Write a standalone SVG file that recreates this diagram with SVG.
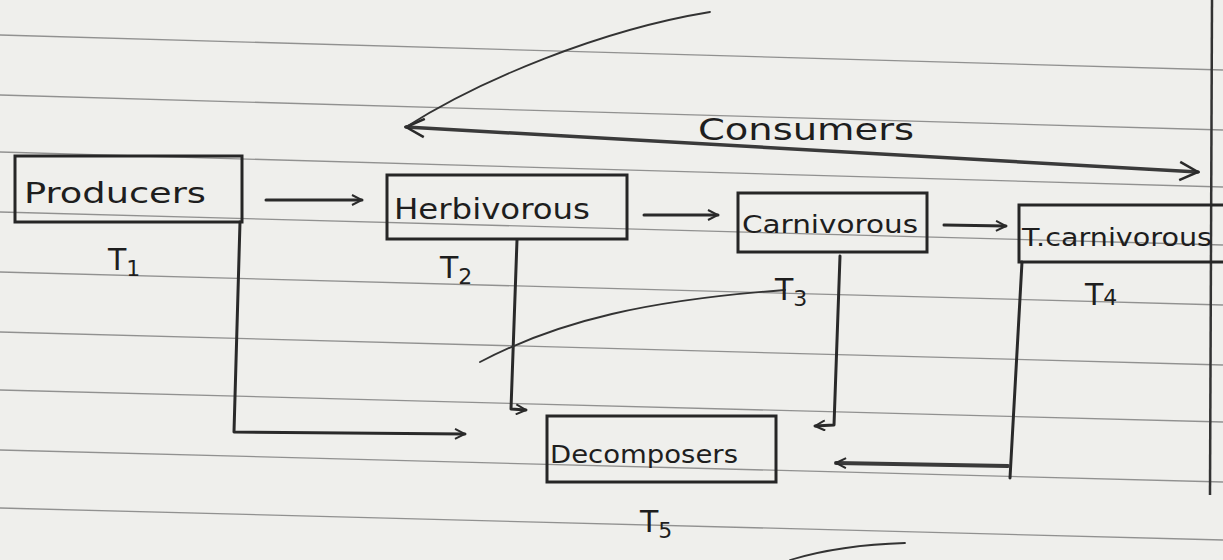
<svg xmlns="http://www.w3.org/2000/svg" width="1223" height="560" viewBox="0 0 1223 560">
<style>
.paper{stroke:#6a6a6a;stroke-width:1.3;fill:none;opacity:0.7}
.box{fill:none;stroke:#262626;stroke-width:3}
.edge{fill:none;stroke:#2a2a2a;stroke-width:3;stroke-linecap:round;stroke-linejoin:round}
.thin{fill:none;stroke:#333;stroke-width:1.8;stroke-linecap:round}
.lbl{font-family:"DejaVu Sans",sans-serif;fill:#1e1e1e;font-size:28px}
.t{font-family:"DejaVu Sans",sans-serif;fill:#1e1e1e;font-size:30px}
.sub{font-family:"DejaVu Sans",sans-serif;fill:#1e1e1e;font-size:22px}
</style>
<defs>
<marker id="ah" viewBox="0 0 12 12" refX="11" refY="6" markerWidth="12" markerHeight="12" markerUnits="userSpaceOnUse" orient="auto-start-reverse">
<path d="M1,1 L11,6 L1,11" fill="none" stroke="#2a2a2a" stroke-width="2"/>
</marker>
<marker id="ahb" viewBox="0 0 12 12" refX="11" refY="6" markerWidth="22" markerHeight="22" markerUnits="userSpaceOnUse" orient="auto-start-reverse">
<path d="M1,1 L11,6 L1,11" fill="none" stroke="#2a2a2a" stroke-width="1.4"/>
</marker>
</defs>
<rect width="1223" height="560" fill="#efefec"/>
<g id="paper">
<line class="paper" x1="0" y1="35" x2="1223" y2="70"/>
<line class="paper" x1="0" y1="95" x2="1223" y2="130"/>
<line class="paper" x1="0" y1="152" x2="1223" y2="187"/>
<line class="paper" x1="0" y1="212" x2="1223" y2="245"/>
<line class="paper" x1="0" y1="272" x2="1223" y2="305"/>
<line class="paper" x1="0" y1="332" x2="1223" y2="365"/>
<line class="paper" x1="0" y1="390" x2="1223" y2="422"/>
<line class="paper" x1="0" y1="450" x2="1223" y2="482"/>
<line class="paper" x1="0" y1="508" x2="1223" y2="540"/>
<line class="paper" x1="1212" y1="0" x2="1210" y2="495" style="stroke:#333;stroke-width:2.5;opacity:1"/>
</g>
<g id="connectors">
<line class="edge" x1="266" y1="200" x2="362" y2="200" marker-end="url(#ah)"/>
<line class="edge" x1="644" y1="215" x2="718" y2="215" marker-end="url(#ah)"/>
<line class="edge" x1="944" y1="225" x2="1006" y2="226" marker-end="url(#ah)"/>
<polyline class="edge" points="240,222 234,432 465,434" marker-end="url(#ah)"/>
<polyline class="edge" points="517,240 511,409 526,410" marker-end="url(#ah)"/>
<polyline class="edge" points="840,256 834,425 815,426" marker-end="url(#ah)"/>
<line class="edge" x1="1022" y1="262" x2="1010" y2="478"/>
<line class="edge" x1="1008" y1="466" x2="836" y2="463" marker-end="url(#ah)" style="stroke-width:4;stroke:#3a3a3a"/>
<line class="edge" x1="406" y1="127" x2="1198" y2="172" marker-start="url(#ahb)" marker-end="url(#ahb)" style="stroke-width:3.5;stroke:#3a3a3a"/>
<path class="thin" d="M710,12 C600,30 480,80 406,127"/>
<path class="thin" d="M785,290 C650,300 560,320 480,362"/>
<path class="thin" d="M790,560 C830,548 870,544 905,543"/>
</g>
<g id="producers">
<rect class="box" x="15" y="156" width="227" height="66"/>
<text class="lbl" x="24" y="203" textLength="182" lengthAdjust="spacingAndGlyphs">Producers</text>
<text class="t" x="108" y="270">T<tspan class="sub" dy="6">1</tspan></text>
</g>
<g id="herbivorous">
<rect class="box" x="387" y="175" width="240" height="64"/>
<text class="lbl" x="394" y="219" textLength="196" lengthAdjust="spacingAndGlyphs">Herbivorous</text>
<text class="t" x="440" y="278">T<tspan class="sub" dy="6">2</tspan></text>
</g>
<g id="carnivorous">
<rect class="box" x="738" y="193" width="189" height="59"/>
<text class="lbl" x="742" y="233" textLength="176" lengthAdjust="spacingAndGlyphs" style="font-size:24px">Carnivorous</text>
<text class="t" x="775" y="300">T<tspan class="sub" dy="6">3</tspan></text>
</g>
<g id="tcarnivorous">
<rect class="box" x="1019" y="205" width="210" height="57"/>
<text class="lbl" x="1022" y="246" textLength="190" lengthAdjust="spacingAndGlyphs" style="font-size:24px">T.carnivorous</text>
<text class="t" x="1085" y="305">T<tspan class="sub" dy="0">4</tspan></text>
</g>
<g id="decomposers">
<rect class="box" x="547" y="416" width="229" height="66"/>
<text class="lbl" x="550" y="463" textLength="188" lengthAdjust="spacingAndGlyphs" style="font-size:24px">Decomposers</text>
<text class="t" x="640" y="532">T<tspan class="sub" dy="6">5</tspan></text>
</g>
<g id="consumers">
<text class="lbl" x="698" y="140" textLength="216" lengthAdjust="spacingAndGlyphs" style="font-size:30px">Consumers</text>
</g>
</svg>
